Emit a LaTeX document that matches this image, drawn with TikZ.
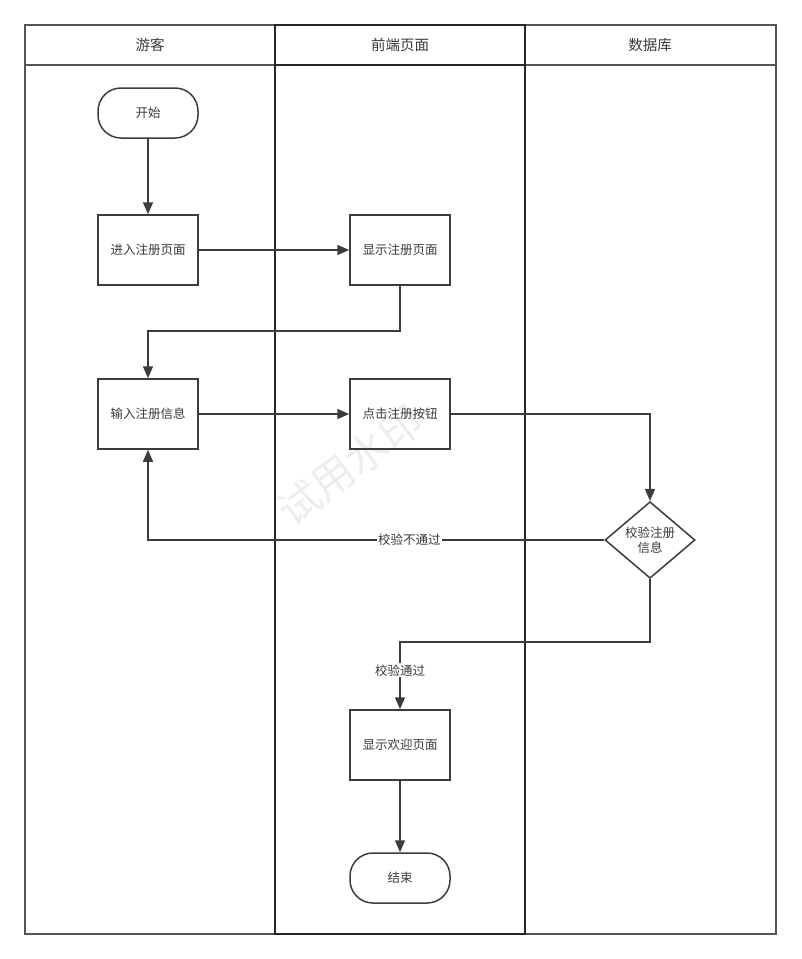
\documentclass[tikz,border=0pt]{standalone}
\usepackage{fontspec}
\setmainfont{Noto Sans CJK SC}
\usetikzlibrary{shapes.geometric,arrows.meta}
\definecolor{ln}{HTML}{3C3C3C}
\definecolor{fr}{HTML}{555555}
\definecolor{tx}{HTML}{3A3A3A}
\tikzset{
  x=1pt,y=-1pt,
  proc/.style={draw=ln,line width=1.5pt,minimum width=100pt,minimum height=70pt,inner sep=0pt,text=tx,font=\fontsize{12.5}{15}\selectfont},
  term/.style={draw=ln,line width=1.5pt,rounded corners=23pt,minimum width=100pt,minimum height=50pt,inner sep=0pt,text=tx,font=\fontsize{12.5}{15}\selectfont},
  dec/.style={draw=ln,line width=1.5pt,diamond,minimum width=90pt,minimum height=70pt,inner sep=0pt,text=tx,align=center,font=\fontsize{12.5}{15}\selectfont},
  flow/.style={draw=ln,line width=1.5pt,-{Triangle[length=12pt,width=10pt]}},
  lbl/.style={fill=white,inner sep=1pt,text=tx,font=\fontsize{12.5}{15}\selectfont},
  hdr/.style={text=tx,font=\fontsize{14.5}{17}\selectfont},
}
\begin{document}
\begin{tikzpicture}
\useasboundingbox (0,0) rectangle (801,959);
% watermark
\node[text=black!7,rotate=37,font=\fontsize{42}{46}\selectfont] (wm) at (350,465) {试用水印};
% lanes
\draw[fr,line width=1.5pt] (25,25) rectangle (776,934);
\draw[fr,line width=1.5pt] (25,65) -- (776,65);
\draw[black!85,line width=2.2pt] (275,25) rectangle (525,934);
\draw[black!85,line width=2.2pt] (275,65) -- (525,65);
\node[hdr] (h1) at (150,45) {游客};
\node[hdr] (h2) at (400,45) {前端页面};
\node[hdr] (h3) at (650,45) {数据库};
% nodes
\node[term] (start) at (148,113) {开始};
\node[proc] (enter) at (148,250) {进入注册页面};
\node[proc] (show) at (400,250) {显示注册页面};
\node[proc] (input) at (148,414) {输入注册信息};
\node[proc] (click) at (400,414) {点击注册按钮};
\node[dec] (check) at (650,540) {校验注册\\信息};
\node[proc] (welcome) at (400,745) {显示欢迎页面};
\node[term] (end) at (400,878) {结束};
\coordinate (turn1) at (400,331);
\coordinate (turn2) at (400,642);
% edges
\draw[flow] (start) -- (enter);
\draw[flow] (enter) -- (show);
\draw[flow] (show.south) -- (turn1) -| (input.north);
\draw[flow] (input) -- (click);
\draw[flow] (click.east) -| (check.north);
\draw[flow] (check.west) -| node[lbl,pos=0.2135] {校验不通过} (input.south);
\draw[flow] (check.south) |- (turn2) -- node[lbl,pos=0.42] {校验通过} (welcome.north);
\draw[flow] (welcome) -- (end);
\end{tikzpicture}
\end{document}
